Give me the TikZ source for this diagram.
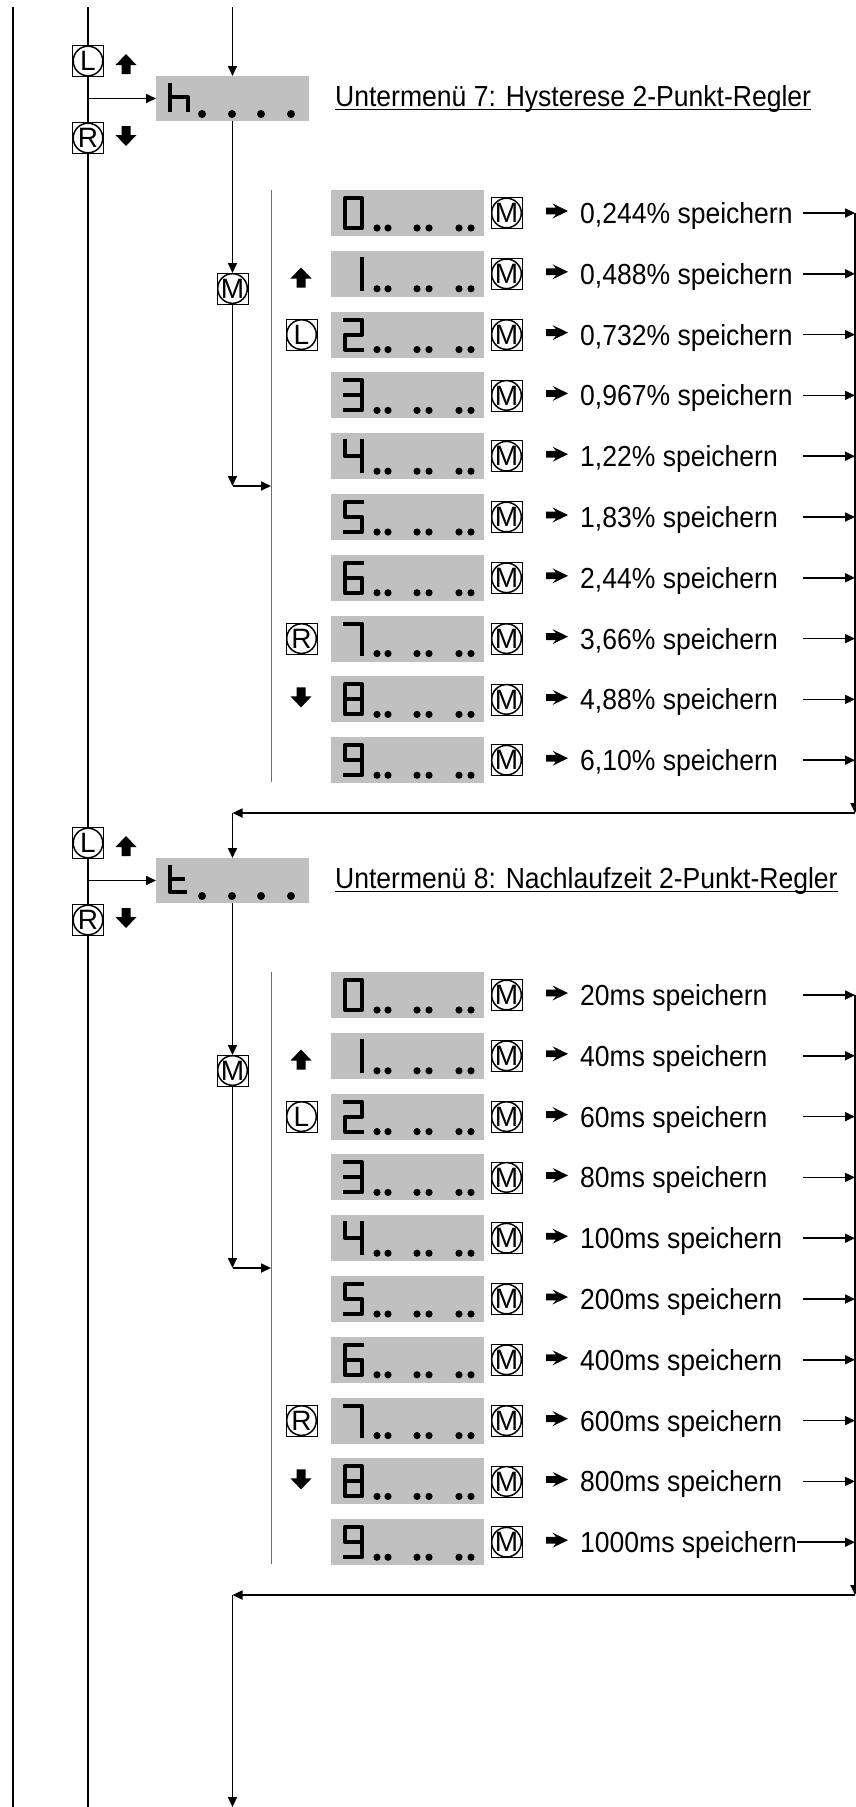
\documentclass[tikz,border=0pt]{standalone}
\usepackage{fontspec}
\setmainfont{Liberation Sans}
\newfontfamily\txtfont[FakeStretch=0.915]{Liberation Sans}
\usetikzlibrary{arrows.meta}
\definecolor{lcdgray}{RGB}{192,192,192}
\definecolor{listgray}{RGB}{110,110,110}
\tikzset{
  main/.style={line width=1.7pt},
  arr/.style={line width=1.7pt, -{Triangle[length=10pt,width=9pt]}},
  listline/.style={line width=1pt, draw=listgray},
  lcdbox/.style={fill=lcdgray, minimum width=153pt, minimum height=46pt, inner sep=0pt, outer sep=0pt},
  menubox/.style={fill=lcdgray, minimum width=153pt, minimum height=45pt, inner sep=0pt, outer sep=0pt},
  btn/.style={draw, line width=0.6pt, fill=white, minimum size=31pt, inner sep=0pt, outer sep=0pt,
    font=\fontsize{28}{28}\selectfont,
    path picture={\draw[line width=1.5pt] (path picture bounding box.center) circle (14.8pt);}},
  seg/.style={line width=4pt, line join=round, line cap=rect},
  lbl/.style={font=\txtfont\fontsize{29}{29}\selectfont, inner sep=0pt, anchor=base west},
  lcd0/.pic={\draw[seg] (2,2) rectangle (19,32);},
  lcd1/.pic={\draw[seg] (19,2) -- (19,32);},
  lcd2/.pic={\draw[seg] (2,2) -- (19,2) -- (19,17) -- (2,17) -- (2,32) -- (19,32);},
  lcd3/.pic={\draw[seg] (2,2) -- (19,2) -- (19,32) -- (2,32) (2,17) -- (19,17);},
  lcd4/.pic={\draw[seg] (2,2) -- (2,17) -- (19,17) (19,2) -- (19,32);},
  lcd5/.pic={\draw[seg] (19,2) -- (2,2) -- (2,17) -- (19,17) -- (19,32) -- (2,32);},
  lcd6/.pic={\draw[seg] (19,2) -- (2,2) -- (2,32) -- (19,32) -- (19,17) -- (2,17);},
  lcd7/.pic={\draw[seg] (2,2) -- (19,2) -- (19,32);},
  lcd8/.pic={\draw[seg] (2,2) rectangle (19,32) (2,17) -- (19,17);},
  lcd9/.pic={\draw[seg] (19,17) -- (2,17) -- (2,2) -- (19,2) -- (19,32) -- (2,32);},
  lcdh/.pic={\draw[seg] (2,2) -- (2,27) (2,14) -- (20,14) -- (20,27);},
  lcdt/.pic={\draw[seg] (2,2) -- (2,27) -- (17,27) (2,14) -- (15,14);},
  uparr/.pic={\fill (0,-10) -- (10.5,1) -- (4.5,1) -- (4.5,10) -- (-4.5,10) -- (-4.5,1) -- (-10.5,1) -- cycle;},
  dnarr/.pic={\fill (0,10) -- (10.5,-1) -- (4.5,-1) -- (4.5,-10) -- (-4.5,-10) -- (-4.5,-1) -- (-10.5,-1) -- cycle;},
  rarr/.pic={\fill (0,-3.4) -- (10,-3.4) -- (6.5,-7.5) -- (22,0) -- (6.5,7.5) -- (10,3.4) -- (0,3.4) -- cycle;}
}
% #1 y offset, #2 suffix, #3 lcd pic, #4 title, #5 rows
\newcommand\submenu[5]{%
  \node[btn] (L#2) at (88,{61+#1}) {L};
  \node[btn] (R#2) at (88,{138+#1}) {R};
  \pic at (126,{64+#1}) {uparr};
  \pic at (126,{136+#1}) {dnarr};
  \node[menubox] (box#2) at (232.5,{98.5+#1}) {};
  \pic at (168,{83+#1}) {#3};
  \foreach \dx in {46,76,105,135} \fill ({156+\dx},{114+#1}) circle (4pt);
  \coordinate (j#2) at (88,{98.5+#1});
  \draw[arr] (j#2) -- (box#2.west);
  \node[lbl] (title#2) at (335,{106+#1}) {#4};
  \draw[line width=1.3pt] ([yshift=-3.5pt]title#2.base west) -- ([yshift=-3.5pt]title#2.base east);
  \node[btn] (M#2) at (232.5,{288.5+#1}) {M};
  \draw[arr] (box#2.south) -- (M#2.north);
  \coordinate (c#2) at (232.5,{486+#1});
  \coordinate (li#2) at (271,{486+#1});
  \draw[arr] (M#2.south) -- (c#2);
  \draw[arr] (c#2) -- (li#2);
  \coordinate (lt#2) at (271,{190+#1});
  \coordinate (lb#2) at (271,{782+#1});
  \draw[listline] (lt#2) -- (lb#2);
  \pic at (301,{277.5+#1}) {uparr};
  \node[btn] (LL#2) at (301.5,{334.6+#1}) {L};
  \node[btn] (RR#2) at (301.5,{638.6+#1}) {R};
  \pic at (301,{697.4+#1}) {dnarr};
  \foreach \i/\rtxt/\xs in {#5} {
    \pgfmathsetmacro\yc{213+60.8*\i+#1}
    \node[lcdbox] (b#2-\i) at (407.5,\yc) {};
    \pic at (343,{\yc-17}) {lcd\i};
    \foreach \dx in {46,57,86,98,128,140} \fill ({331+\dx},{\yc+15}) circle (3.6pt);
    \node[btn] (m#2-\i) at (506.5,\yc) {M};
    \pic at (546,{\yc-2}) {rarr};
    \node[lbl] (t#2-\i) at (580,{\yc+10.4}) {\rtxt};
    \coordinate (s#2-\i) at (\xs,\yc);
    \coordinate (e#2-\i) at (855,\yc);
    \draw[arr] (s#2-\i) -- (e#2-\i);
  }
  \coordinate (corner#2) at (855,{813+#1});
  \coordinate (ret#2) at (232.5,{813+#1});
  \draw[arr] (e#2-0) -- (corner#2);
  \draw[arr] (corner#2) -- (ret#2);
}
\begin{document}
\begin{tikzpicture}[x=1pt,y=-1pt]
  \useasboundingbox (0,0) rectangle (856,1807);
  \fill[white] (0,0) rectangle (856,1807);
  \coordinate (a1) at (13,7);
  \coordinate (a2) at (13,1807);
  \coordinate (v1) at (88,7);
  \coordinate (v2) at (88,1807);
  \draw[main] (a1) -- (a2);
  \draw[main] (v1) -- (v2);
  \submenu{0}{7}{lcdh}{Untermenü 7: Hysterese 2-Punkt-Regler}{%
    0/{0,244\% speichern}/803, 1/{0,488\% speichern}/803, 2/{0,732\% speichern}/803,
    3/{0,967\% speichern}/803, 4/{1,22\% speichern}/803, 5/{1,83\% speichern}/803,
    6/{2,44\% speichern}/803, 7/{3,66\% speichern}/803, 8/{4,88\% speichern}/803,
    9/{6,10\% speichern}/803}
  \submenu{782}{8}{lcdt}{Untermenü 8: Nachlaufzeit 2-Punkt-Regler}{%
    0/{20ms speichern}/803, 1/{40ms speichern}/803, 2/{60ms speichern}/803,
    3/{80ms speichern}/803, 4/{100ms speichern}/803, 5/{200ms speichern}/803,
    6/{400ms speichern}/803, 7/{600ms speichern}/803, 8/{800ms speichern}/803,
    9/{1000ms speichern}/797}
  \coordinate (top) at (232.5,7);
  \coordinate (bottom) at (232.5,1807);
  \draw[arr] (top) -- (box7.north);
  \draw[arr] (ret7) -- (box8.north);
  \draw[arr] (ret8) -- (bottom);
\end{tikzpicture}
\end{document}
